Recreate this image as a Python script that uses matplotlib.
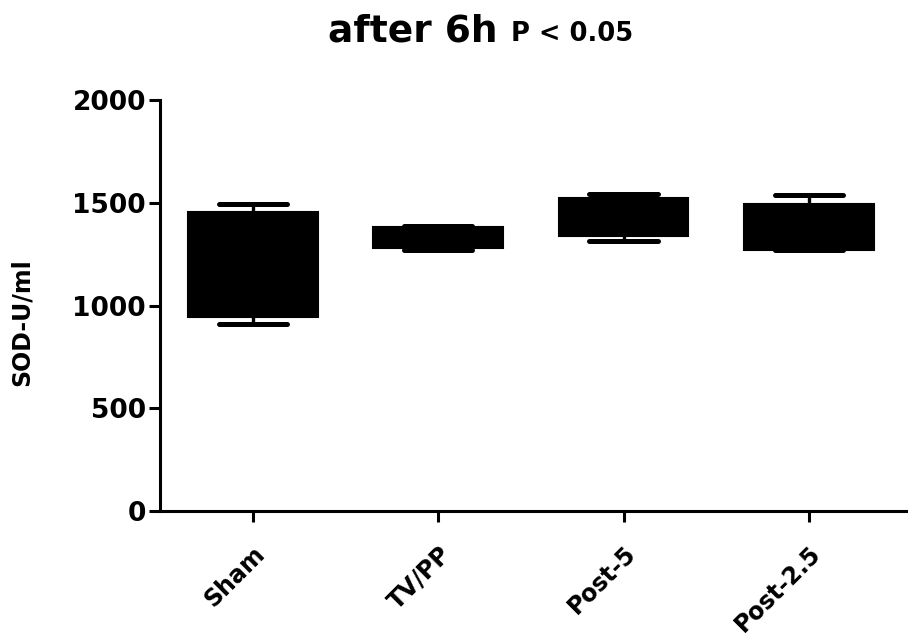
import matplotlib
matplotlib.use("Agg")
import matplotlib.pyplot as plt

# SOD activity (U/ml) after 6h, five-number summaries per group
groups = ["Sham", "TV/PP", "Post-5", "Post-2.5"]
whisker_low = [911, 1270, 1315, 1270]
q1 = [945, 1278, 1340, 1270]
median = [1200, 1330, 1420, 1380]
q3 = [1457, 1384, 1525, 1493]
whisker_high = [1495, 1388, 1543, 1536]
y_ticks = [0, 500, 1000, 1500, 2000]

plt.rcParams["font.family"] = ["DejaVu Sans"]
plt.rcParams["font.weight"] = "bold"

fig = plt.figure(figsize=(9.08, 6.38), dpi=100)
ax = fig.add_axes([0.176, 0.199, 0.824, 0.644])

stats = []
for name, lo, a, m, b, hi in zip(groups, whisker_low, q1, median, q3, whisker_high):
    stats.append(dict(label=name, whislo=lo, q1=a, med=m, q3=b, whishi=hi, fliers=[]))

positions = list(range(1, len(groups) + 1))
ax.bxp(
    stats,
    positions=positions,
    widths=0.70,
    capwidths=0.37,
    patch_artist=True,
    showfliers=False,
    boxprops=dict(facecolor="black", edgecolor="black", linewidth=1.5),
    medianprops=dict(color="black", linewidth=1.5),
    whiskerprops=dict(color="black", linewidth=2.4),
    capprops=dict(color="black", linewidth=3.6, solid_capstyle="round"),
)

ax.set_xlim(0.498, 4.535)
ax.set_ylim(0, 2000)
ax.set_yticks(y_ticks)
ax.set_yticklabels([str(v) for v in y_ticks], fontsize=19, fontweight="bold")
ax.set_xticks(positions)
ax.set_xticklabels(groups, fontsize=17, fontweight="bold", rotation=45,
                   ha="right", va="top", rotation_mode="anchor")

for side in ("top", "right"):
    ax.spines[side].set_visible(False)
for side in ("left", "bottom"):
    ax.spines[side].set_linewidth(2.2)
ax.tick_params(axis="both", width=2.2, length=8, color="black")
ax.tick_params(axis="y", pad=2)
ax.tick_params(axis="x", pad=14)

ax.set_ylabel("SOD-U/ml", fontsize=17, fontweight="bold")
ax.yaxis.set_label_coords(-0.168, 0.46)

fig.text(0.548, 0.935, "after 6h", fontsize=27, fontweight="bold",
         ha="right", va="baseline")
fig.text(0.563, 0.935, "P < 0.05", fontsize=18.5, fontweight="bold",
         ha="left", va="baseline")

fig.savefig("out.png", dpi=100)
